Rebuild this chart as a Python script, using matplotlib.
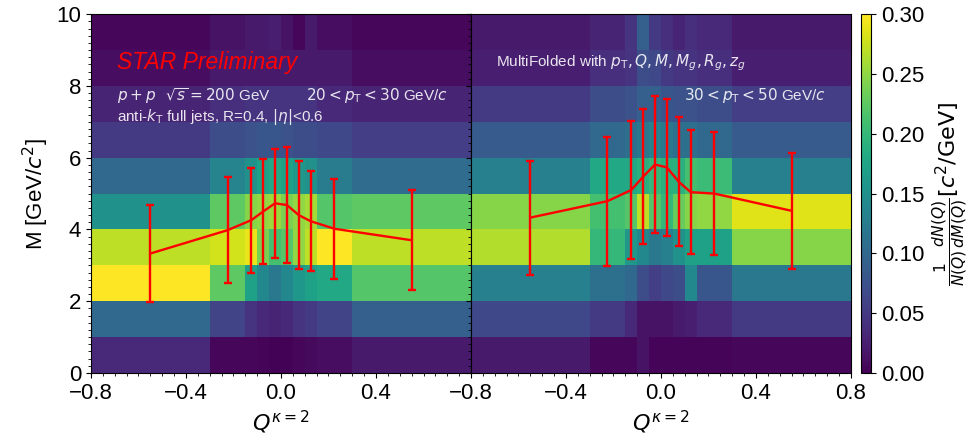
import matplotlib
matplotlib.use("Agg")
import matplotlib.pyplot as plt
import numpy as np
from matplotlib.ticker import MultipleLocator

plt.rcParams['font.family'] = ['Liberation Sans', 'DejaVu Sans']
plt.rcParams['mathtext.fontset'] = 'dejavusans'

# bin edges
q_edges = [-0.8, -0.3, -0.15, -0.1, -0.05, 0.0, 0.05, 0.1, 0.15, 0.3, 0.8]
m_edges = [0, 1, 2, 3, 4, 5, 6, 7, 8, 9, 10]
q_mid = [-0.55, -0.225, -0.125, -0.075, -0.025, 0.025, 0.075, 0.125, 0.225, 0.55]

# 1/N dN/dM, rows = M bins (0-1 ... 9-10), columns = Q bins
hist_20_30 = [
    [0.035, 0.005, 0.005, 0.003, 0.002, 0.002, 0.005, 0.008, 0.010, 0.020],
    [0.100, 0.060, 0.045, 0.035, 0.030, 0.035, 0.045, 0.050, 0.060, 0.090],
    [0.300, 0.225, 0.170, 0.140, 0.120, 0.140, 0.160, 0.170, 0.180, 0.220],
    [0.270, 0.280, 0.290, 0.240, 0.210, 0.220, 0.250, 0.270, 0.300, 0.270],
    [0.150, 0.225, 0.245, 0.250, 0.255, 0.240, 0.250, 0.260, 0.220, 0.225],
    [0.100, 0.135, 0.150, 0.170, 0.180, 0.170, 0.160, 0.150, 0.125, 0.105],
    [0.050, 0.070, 0.075, 0.080, 0.080, 0.075, 0.070, 0.070, 0.065, 0.055],
    [0.030, 0.040, 0.045, 0.045, 0.045, 0.045, 0.045, 0.045, 0.035, 0.030],
    [0.010, 0.020, 0.020, 0.020, 0.020, 0.020, 0.020, 0.020, 0.020, 0.010],
    [0.005, 0.015, 0.020, 0.020, 0.025, 0.015, 0.005, 0.020, 0.010, 0.005],
]
hist_30_50 = [
    [0.020, 0.005, 0.005, 0.015, 0.003, 0.003, 0.003, 0.003, 0.003, 0.005],
    [0.065, 0.050, 0.035, 0.015, 0.015, 0.015, 0.020, 0.025, 0.035, 0.050],
    [0.130, 0.110, 0.100, 0.070, 0.055, 0.065, 0.070, 0.140, 0.080, 0.120],
    [0.265, 0.200, 0.160, 0.140, 0.120, 0.130, 0.150, 0.170, 0.170, 0.245],
    [0.245, 0.210, 0.220, 0.270, 0.220, 0.200, 0.230, 0.245, 0.250, 0.285],
    [0.130, 0.180, 0.180, 0.190, 0.200, 0.190, 0.190, 0.210, 0.205, 0.130],
    [0.085, 0.100, 0.110, 0.120, 0.130, 0.120, 0.110, 0.110, 0.100, 0.085],
    [0.050, 0.070, 0.075, 0.090, 0.090, 0.080, 0.075, 0.075, 0.070, 0.055],
    [0.025, 0.040, 0.045, 0.070, 0.065, 0.050, 0.045, 0.045, 0.040, 0.025],
    [0.020, 0.030, 0.045, 0.090, 0.050, 0.040, 0.030, 0.040, 0.035, 0.020],
]

# mean M and spread per Q bin
mean_20_30 = [3.33, 3.98, 4.26, 4.50, 4.73, 4.68, 4.40, 4.23, 4.02, 3.70]
err_20_30 = [1.36, 1.48, 1.46, 1.47, 1.52, 1.61, 1.50, 1.40, 1.40, 1.40]
mean_30_50 = [4.33, 4.79, 5.10, 5.47, 5.81, 5.73, 5.33, 5.04, 5.00, 4.52]
err_30_50 = [1.59, 1.80, 1.92, 1.88, 1.90, 1.92, 1.80, 1.72, 1.72, 1.61]

fig = plt.figure(figsize=(9.77, 4.43), dpi=100)
ax1 = fig.add_axes([0.0931, 0.158, 0.389, 0.810])
ax2 = fig.add_axes([0.482, 0.158, 0.389, 0.810], sharey=ax1)
cax = fig.add_axes([0.881, 0.158, 0.0105, 0.810])

panels = [(ax1, hist_20_30, mean_20_30, err_20_30),
          (ax2, hist_30_50, mean_30_50, err_30_50)]
for ax, h, mu, er in panels:
    mesh = ax.pcolormesh(q_edges, m_edges, np.array(h), cmap='viridis',
                         vmin=0, vmax=0.3)
    ax.errorbar(q_mid, mu, yerr=er, color='red', lw=1.7, elinewidth=1.7,
                capsize=3.2, capthick=1.7)
    ax.set_xlim(-0.8, 0.8)
    ax.set_ylim(0, 10)
    ax.xaxis.set_minor_locator(MultipleLocator(0.05))
    ax.yaxis.set_minor_locator(MultipleLocator(0.2))
    ax.tick_params(labelsize=16)
    ax.set_xlabel(r'$Q^{\kappa=2}$', fontsize=16)

ax1.set_xticks([-0.8, -0.4, 0.0, 0.4])
ax2.set_xticks([-0.8, -0.4, 0.0, 0.4, 0.8])
ax1.set_yticks([0, 2, 4, 6, 8, 10])
ax1.set_ylabel(r'M [GeV/$c^2$]', fontsize=16)
plt.setp(ax2.get_yticklabels(), visible=False)

txt = dict(color='white', alpha=0.88, fontsize=11, va='center')
ax1.text(0.068, 0.866, 'STAR Preliminary', color='red', fontsize=16.5,
         style='italic', va='center', transform=ax1.transAxes)
ax1.text(0.068, 0.772, r'$p+p\ \ \sqrt{s}=200$ GeV', transform=ax1.transAxes, **txt)
ax1.text(0.566, 0.772, r'$20 < p_{\rm T} < 30$ GeV/$c$', transform=ax1.transAxes, **txt)
ax1.text(0.068, 0.713, r'anti-$k_{\rm T}$ full jets, R=0.4, $|\eta|$<0.6',
         transform=ax1.transAxes, **txt)
ax2.text(0.066, 0.866, r'MultiFolded with $p_{\rm T}, Q, M, M_g, R_g, z_g$',
         transform=ax2.transAxes, **txt)
ax2.text(0.56, 0.772, r'$30 < p_{\rm T} < 50$ GeV/$c$', transform=ax2.transAxes, **txt)

cb = fig.colorbar(mesh, cax=cax)
cb.set_ticks([0.0, 0.05, 0.10, 0.15, 0.20, 0.25, 0.30])
cb.ax.set_yticklabels(['0.00', '0.05', '0.10', '0.15', '0.20', '0.25', '0.30'])
cb.ax.tick_params(labelsize=16)
cb.set_label(r'$\frac{1}{N(Q)}\frac{dN(Q)}{dM(Q)}[c^2/\mathrm{GeV}]$', fontsize=16)

fig.savefig('out.png', dpi=100)
